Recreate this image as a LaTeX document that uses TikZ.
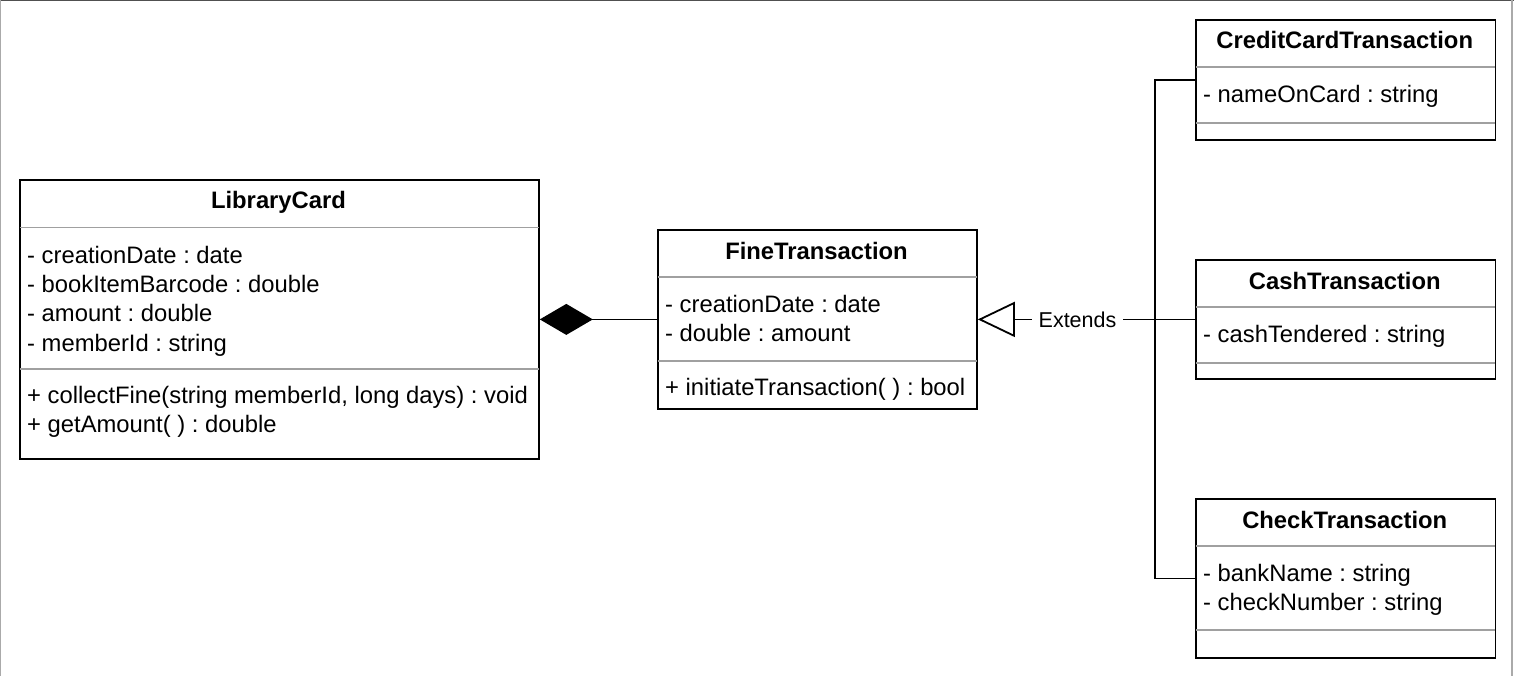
\documentclass[tikz,border=0pt]{standalone}
\usepackage{fontspec}
\setmainfont{Liberation Sans}
\usetikzlibrary{arrows.meta}
\definecolor{sepgray}{RGB}{160,160,160}
\definecolor{frametop}{RGB}{80,80,80}
\definecolor{frameside}{RGB}{170,170,170}
\tikzset{
  cls/.style={draw=black, line width=1.8pt, inner sep=0pt, anchor=north west, fill=white},
  sepline/.style={draw=sepgray, line width=1.8pt},
  ttl/.style={font=\frenchspacing\bfseries\fontsize{23.8}{29}\selectfont, anchor=base, inner sep=0pt},
  attr/.style={font=\frenchspacing\fontsize{23.8}{29}\selectfont, anchor=base west, inner sep=0pt},
  conn/.style={draw=black, line width=1.8pt},
  lbl/.style={font=\fontsize{21.5}{26}\selectfont, fill=white, inner xsep=6.5pt, inner ysep=2pt}
}
\begin{document}
\begin{tikzpicture}[x=1pt,y=-1pt]
\useasboundingbox (0,0) rectangle (1514,676);
% frame
\draw[frametop, line width=1.4pt] (0,0.7) -- (1514,0.7);
\draw[frameside, line width=1.2pt] (0.6,0) -- (0.6,676);
\draw[frameside, line width=1.2pt] (1512,0) -- (1512,676);

% LibraryCard
\node[cls, minimum width=519pt, minimum height=279pt] (lc) at (19,179) {};
\node[ttl] (lct) at (278.5,209) {LibraryCard};
\draw[sepline] ([xshift=0.9pt]lc.west |- 0,227.5) -- ([xshift=-0.9pt]lc.east |- 0,227.5);
\node[attr] (lca1) at (27,263) {- creationDate : date};
\node[attr] (lca2) at (27,292.4) {- bookItemBarcode : double};
\node[attr] (lca3) at (27,321.8) {- amount : double};
\node[attr] (lca4) at (27,351.2) {- memberId : string};
\draw[sepline] ([xshift=0.9pt]lc.west |- 0,369) -- ([xshift=-0.9pt]lc.east |- 0,369);
\node[attr] (lcm1) at (27,403.5) {+ collectFine(string memberId, long days) : void};
\node[attr] (lcm2) at (27,432.9) {+ getAmount( ) : double};

% FineTransaction
\node[cls, minimum width=319pt, minimum height=179pt] (fine) at (657,229) {};
\node[ttl] (finet) at (816.5,259) {FineTransaction};
\draw[sepline] ([xshift=0.9pt]fine.west |- 0,276.7) -- ([xshift=-0.9pt]fine.east |- 0,276.7);
\node[attr] (finea1) at (665,312.3) {- creationDate : date};
\node[attr] (finea2) at (665,341.7) {- double : amount};
\draw[sepline] ([xshift=0.9pt]fine.west |- 0,360.7) -- ([xshift=-0.9pt]fine.east |- 0,360.7);
\node[attr] (finem1) at (665,395) {+ initiateTransaction( ) : bool};

% CreditCardTransaction
\node[cls, minimum width=299.5pt, minimum height=120pt] (credit) at (1195,19) {};
\node[ttl] (creditt) at (1344.75,49) {CreditCardTransaction};
\draw[sepline] ([xshift=0.9pt]credit.west |- 0,67) -- ([xshift=-0.9pt]credit.east |- 0,67);
\node[attr] (credita1) at (1203,102.6) {- nameOnCard : string};
\draw[sepline] ([xshift=0.9pt]credit.west |- 0,123.3) -- ([xshift=-0.9pt]credit.east |- 0,123.3);

% CashTransaction
\node[cls, minimum width=299.5pt, minimum height=119pt] (cash) at (1195,259) {};
\node[ttl] (casht) at (1344.75,289) {CashTransaction};
\draw[sepline] ([xshift=0.9pt]cash.west |- 0,306.7) -- ([xshift=-0.9pt]cash.east |- 0,306.7);
\node[attr] (casha1) at (1203,342.3) {- cashTendered : string};
\draw[sepline] ([xshift=0.9pt]cash.west |- 0,362.7) -- ([xshift=-0.9pt]cash.east |- 0,362.7);

% CheckTransaction
\node[cls, minimum width=299.5pt, minimum height=159pt] (check) at (1195,498) {};
\node[ttl] (checkt) at (1344.75,528) {CheckTransaction};
\draw[sepline] ([xshift=0.9pt]check.west |- 0,545.7) -- ([xshift=-0.9pt]check.east |- 0,545.7);
\node[attr] (checka1) at (1203,581.5) {- bankName : string};
\node[attr] (checka2) at (1203,610.9) {- checkNumber : string};
\draw[sepline] ([xshift=0.9pt]check.west |- 0,629.7) -- ([xshift=-0.9pt]check.east |- 0,629.7);

% composition
\draw[conn, {Diamond[length=53pt,width=31pt]}-] (lc.east) -- (fine.west);

% generalization
\coordinate (trunk) at (1155,318.5);
\draw[conn] (credit.west) -| (trunk);
\draw[conn] (check.west) -| (trunk);
\draw[conn, -{Triangle[open,length=37pt,width=35pt]}] (cash.west) -- (fine.east)
  node[lbl, pos=0.541] (ext) {Extends};
\end{tikzpicture}
\end{document}
